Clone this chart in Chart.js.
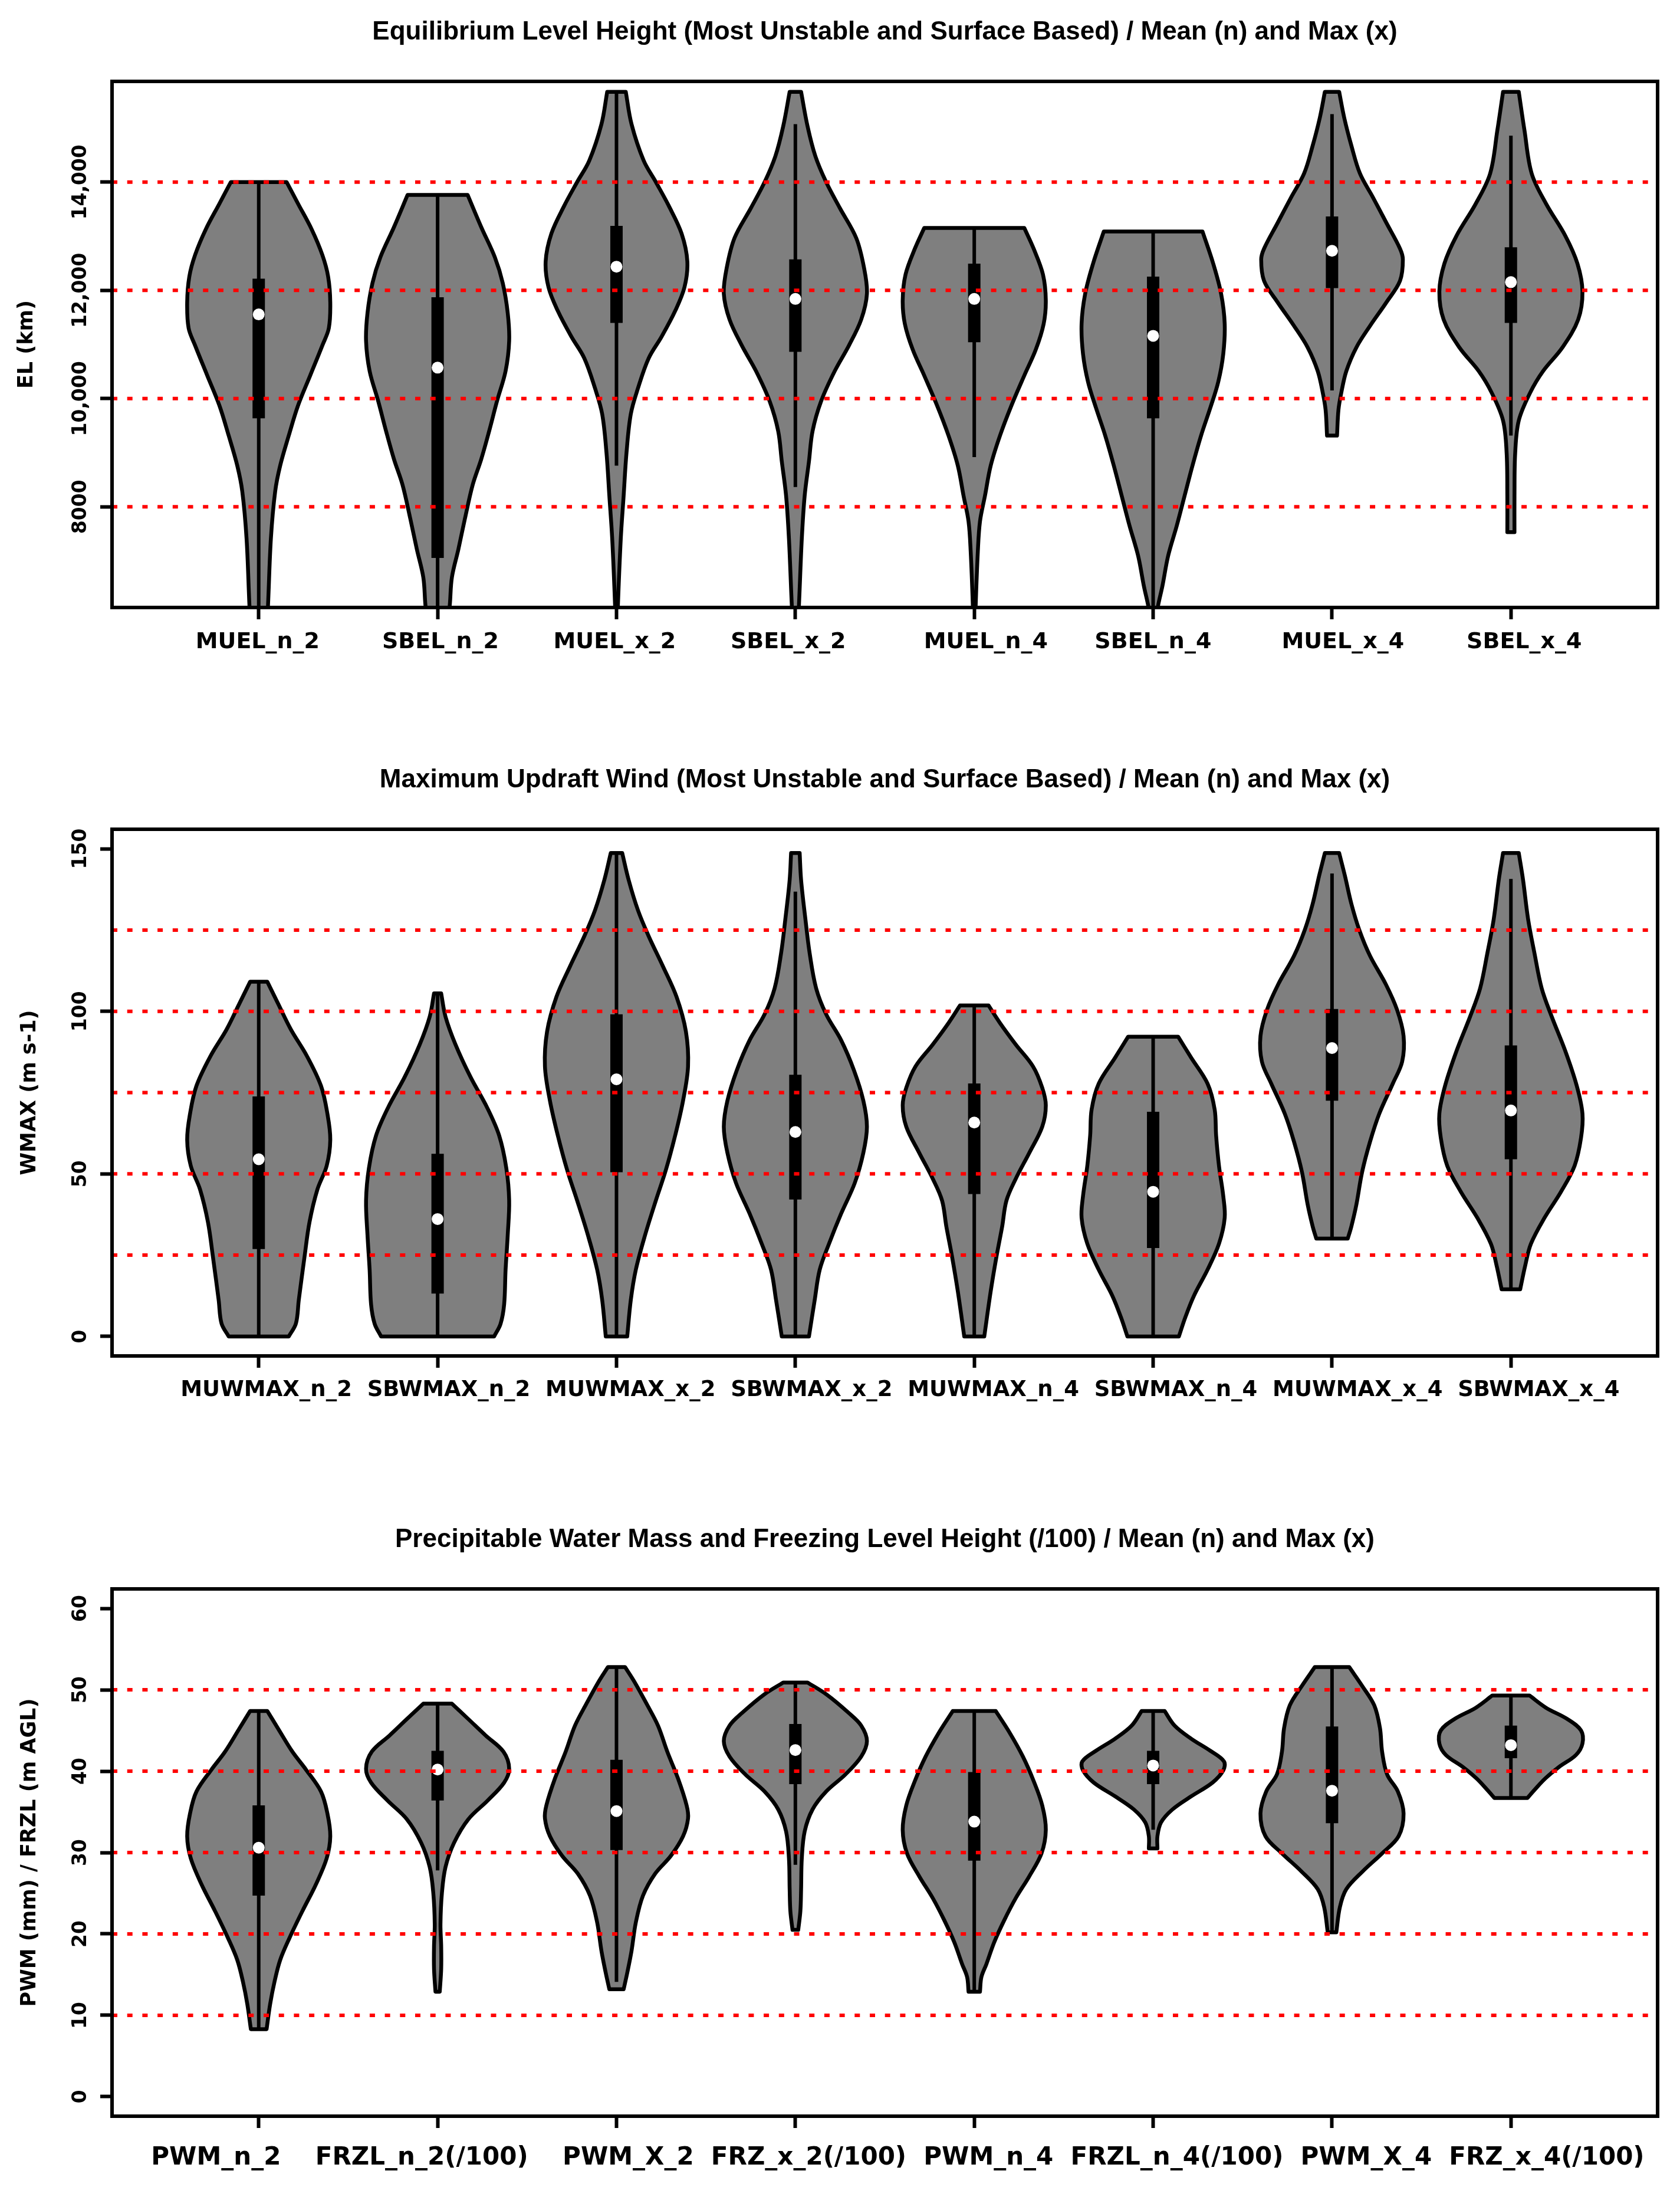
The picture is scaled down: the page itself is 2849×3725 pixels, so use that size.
<!DOCTYPE html>
<html>
<head>
<meta charset="utf-8">
<title>Violin plots</title>
<script src="https://cdn.jsdelivr.net/npm/chart.js@4.4.0/dist/chart.umd.min.js"></script>
<style>
  body { margin: 0; background: #ffffff; }
  canvas { position: absolute; left: 0; }
</style>
</head>
<body>
<canvas id="elChart" width="2849" height="1150" style="top:0px"></canvas>
<canvas id="wmaxChart" width="2849" height="1180" style="top:1240px"></canvas>
<canvas id="pwmChart" width="2849" height="1195" style="top:2530px"></canvas>
<script>
// ---- Equilibrium level height ----
const elLabels = ['MUEL_n_2', 'SBEL_n_2', 'MUEL_x_2', 'SBEL_x_2', 'MUEL_n_4', 'SBEL_n_4', 'MUEL_x_4', 'SBEL_x_4'];
const elMedian = [11555, 10571, 12437, 11841, 11841, 11159, 12730, 12151];
const elQ1 = [9635, 7055, 11397, 10865, 11040, 9635, 12040, 11397];
const elQ3 = [12214, 11873, 13190, 12571, 12492, 12254, 13365, 12794];
const elLo = [6000, 6000, 8762, 8365, 8920, 6000, 10151, 9317];
const elHi = [14000, 13762, 15667, 15071, 13151, 13087, 15254, 14857];
const elTicks = [8000, 10000, 12000, 14000];
const elTickLabels = ['8000', '10,000', '12,000', '14,000'];
const elLines = [8000, 10000, 12000, 14000];
const elLevels = [
  [6000, 6182, 7413, 8286, 8762, 9317, 9873, 10428, 10984, 11302, 11778, 12254, 12651, 13127, 13600, 14000],
  [6000, 6182, 6698, 7214, 7770, 8405, 8881, 9397, 9952, 10508, 11063, 11580, 12135, 12611, 13167, 13762],
  [6000, 6182, 7413, 8206, 9000, 9714, 10190, 10746, 11143, 11619, 12056, 12532, 13048, 13563, 14000, 14397, 15071, 15667],
  [6000, 6182, 7413, 8206, 8841, 9397, 9952, 10508, 10984, 11460, 11937, 12413, 12968, 13524, 14000, 14476, 15032, 15667],
  [6000, 6182, 7175, 7730, 8206, 8762, 9317, 9873, 10428, 10905, 11381, 11817, 12294, 12770, 13151],
  [6000, 6182, 6539, 7095, 7650, 8206, 8762, 9317, 9833, 10309, 10825, 11381, 11936, 12492, 13087],
  [9317, 9794, 10111, 10508, 10944, 11341, 11778, 12175, 12571, 12770, 13246, 13722, 14159, 14675, 15191, 15667],
  [7532, 8206, 9000, 9595, 10111, 10508, 10944, 11460, 11976, 12492, 13008, 13603, 14159, 14952, 15667]
];
const elWidths = [
  [0.12, 0.13, 0.17, 0.23, 0.30, 0.42, 0.55, 0.72, 0.89, 0.98, 1.0, 0.97, 0.89, 0.74, 0.55, 0.39],
  [0.15, 0.17, 0.20, 0.29, 0.38, 0.49, 0.61, 0.72, 0.83, 0.95, 1.0, 0.98, 0.91, 0.80, 0.61, 0.42],
  [0.02, 0.02, 0.06, 0.10, 0.14, 0.20, 0.30, 0.45, 0.63, 0.82, 0.95, 0.99, 0.91, 0.73, 0.55, 0.38, 0.21, 0.13],
  [0.04, 0.05, 0.09, 0.13, 0.19, 0.24, 0.36, 0.55, 0.75, 0.92, 1.0, 0.96, 0.85, 0.62, 0.43, 0.28, 0.17, 0.08],
  [0.02, 0.02, 0.05, 0.08, 0.15, 0.23, 0.36, 0.52, 0.70, 0.86, 0.97, 1.0, 0.96, 0.83, 0.70],
  [0.05, 0.07, 0.13, 0.21, 0.33, 0.44, 0.55, 0.67, 0.80, 0.91, 0.98, 1.0, 0.95, 0.84, 0.69],
  [0.07, 0.09, 0.13, 0.20, 0.34, 0.53, 0.76, 0.95, 0.99, 0.95, 0.76, 0.57, 0.39, 0.27, 0.17, 0.10],
  [0.05, 0.05, 0.06, 0.11, 0.27, 0.45, 0.72, 0.94, 1.0, 0.93, 0.76, 0.49, 0.29, 0.19, 0.11]
];

// ---- Maximum updraft wind ----
const wLabels = ['MUWMAX_n_2', 'SBWMAX_n_2', 'MUWMAX_x_2', 'SBWMAX_x_2', 'MUWMAX_n_4', 'SBWMAX_n_4', 'MUWMAX_x_4', 'SBWMAX_x_4'];
const wMedian = [54.5, 36.1, 79.1, 62.9, 65.8, 44.5, 88.7, 69.5];
const wQ1 = [26.9, 13.2, 50.5, 42.1, 43.8, 27.2, 72.5, 54.5];
const wQ3 = [73.8, 56.2, 99.1, 80.5, 77.8, 69.1, 100.7, 89.5];
const wLo = [0, 0, 0, 0, 0, 0, 30.1, 14.5];
const wHi = [109.1, 105.5, 148.7, 136.8, 101.8, 92.2, 142.4, 140.7];
const wTicks = [0, 50, 100, 150];
const wTickLabels = ['0', '50', '100', '150'];
const wLines = [25, 50, 75, 100, 125];
const wLevels = [
  [0, 4, 11.2, 24.5, 35.2, 45.2, 52.5, 60.5, 68.5, 77.1, 86.4, 94.4, 102.4, 109.1],
  [0, 3.9, 9.9, 20.5, 31.2, 41.8, 51.8, 61.8, 70.5, 79.8, 89.8, 98.4, 105.5],
  [0, 11.2, 20.5, 31.2, 41.8, 51.2, 61.8, 72.5, 83.1, 93.8, 104.4, 113.8, 123.1, 131.1, 140.4, 148.7],
  [0, 11.2, 20.5, 28.5, 37.8, 47.2, 56.5, 64.5, 72.5, 81.8, 91.1, 99.1, 107.1, 117.8, 128.4, 140.4, 148.7],
  [0, 13.9, 24.5, 33.8, 41.8, 48.5, 56.5, 64.5, 71.1, 76.5, 83.1, 89.8, 96.4, 101.8],
  [0, 5.9, 12.5, 20.5, 28.5, 36.5, 43.2, 52.5, 61.8, 69.8, 77.8, 85.8, 92.2],
  [30.1, 33.8, 40.5, 50.5, 59.8, 68.5, 77.8, 84.5, 92.4, 100.4, 108.4, 117.1, 125.1, 133.1, 141.7, 148.7],
  [14.5, 21.8, 28.5, 36.5, 44.5, 52.5, 61.1, 68.5, 77.1, 87.8, 98.4, 107.1, 117.8, 128.4, 140.4, 148.7]
];
const wWidths = [
  [0.42, 0.52, 0.56, 0.64, 0.71, 0.82, 0.95, 1.0, 0.96, 0.87, 0.67, 0.45, 0.27, 0.12],
  [0.79, 0.88, 0.93, 0.95, 0.98, 1.0, 0.96, 0.86, 0.69, 0.46, 0.25, 0.11, 0.05],
  [0.15, 0.20, 0.27, 0.40, 0.55, 0.69, 0.82, 0.93, 1.0, 0.97, 0.84, 0.65, 0.45, 0.30, 0.17, 0.08],
  [0.19, 0.27, 0.34, 0.47, 0.64, 0.83, 0.95, 1.0, 0.95, 0.82, 0.64, 0.43, 0.29, 0.20, 0.14, 0.08, 0.06],
  [0.14, 0.23, 0.31, 0.39, 0.45, 0.58, 0.77, 0.95, 1.0, 0.95, 0.82, 0.58, 0.36, 0.20],
  [0.36, 0.45, 0.57, 0.76, 0.92, 1.0, 0.98, 0.92, 0.88, 0.86, 0.76, 0.53, 0.35],
  [0.22, 0.27, 0.34, 0.42, 0.53, 0.66, 0.85, 0.98, 1.0, 0.91, 0.75, 0.53, 0.38, 0.27, 0.18, 0.10],
  [0.13, 0.20, 0.28, 0.47, 0.70, 0.89, 0.98, 1.0, 0.92, 0.76, 0.57, 0.43, 0.33, 0.24, 0.17, 0.11]
];

// ---- Precipitable water mass / freezing level ----
const pLabels = ['PWM_n_2', 'FRZL_n_2(/100)', 'PWM_X_2', 'FRZ_x_2(/100)', 'PWM_n_4', 'FRZL_n_4(/100)', 'PWM_X_4', 'FRZ_x_4(/100)'];
const pMedian = [30.6, 40.2, 35.1, 42.6, 33.8, 40.7, 37.6, 43.2];
const pQ1 = [24.7, 36.4, 30.3, 38.4, 29.0, 38.4, 33.6, 41.6];
const pQ3 = [35.8, 42.5, 41.4, 45.8, 39.9, 42.5, 45.5, 45.6];
const pLo = [8.3, 27.8, 14.1, 28.5, 12.9, 32.8, 20.2, 36.7];
const pHi = [47.4, 48.3, 52.8, 50.9, 47.4, 47.4, 52.8, 49.3];
const pTicks = [0, 10, 20, 30, 40, 50, 60];
const pTickLabels = ['0', '10', '20', '30', '40', '50', '60'];
const pLines = [10, 20, 30, 40, 50];
const pLevels = [
  [8.3, 11.4, 14.1, 16.8, 19.5, 22.8, 26.1, 29.3, 32.0, 34.8, 37.5, 40.2, 42.4, 45.1, 47.4],
  [12.9, 15.7, 18.5, 21.2, 25.0, 28.2, 31.2, 34.1, 36.4, 38.6, 40.3, 42.4, 44.4, 46.4, 48.3],
  [13.2, 15.2, 17.9, 21.4, 24.7, 27.4, 29.6, 32.0, 34.2, 35.8, 39.1, 42.4, 45.6, 48.3, 51.0, 52.8],
  [20.5, 22.8, 25.5, 29.3, 32.6, 35.3, 37.5, 39.6, 41.8, 43.7, 45.6, 47.2, 49.4, 50.9],
  [12.9, 14.7, 16.3, 19.0, 21.7, 24.4, 27.1, 29.9, 32.8, 35.8, 38.8, 41.8, 44.8, 47.4],
  [30.5, 32.0, 33.7, 35.3, 36.9, 38.6, 40.1, 41.2, 42.5, 44.0, 45.6, 47.4],
  [20.2, 23.3, 25.5, 27.7, 29.9, 32.0, 34.8, 37.5, 39.6, 42.4, 45.3, 48.1, 50.5, 52.8],
  [36.7, 37.7, 39.1, 40.5, 42.0, 43.4, 45.0, 46.4, 47.8, 49.3]
];
const pWidths = [
  [0.11, 0.16, 0.22, 0.30, 0.43, 0.61, 0.80, 0.95, 1.0, 0.96, 0.87, 0.66, 0.47, 0.28, 0.12],
  [0.03, 0.05, 0.05, 0.04, 0.06, 0.11, 0.23, 0.43, 0.70, 0.93, 1.0, 0.92, 0.67, 0.43, 0.20],
  [0.10, 0.15, 0.21, 0.27, 0.37, 0.54, 0.76, 0.93, 1.0, 0.98, 0.86, 0.71, 0.58, 0.42, 0.25, 0.12],
  [0.04, 0.07, 0.08, 0.09, 0.13, 0.24, 0.43, 0.70, 0.92, 1.0, 0.92, 0.74, 0.44, 0.17],
  [0.08, 0.10, 0.17, 0.28, 0.42, 0.58, 0.77, 0.94, 1.0, 0.95, 0.83, 0.68, 0.49, 0.30],
  [0.06, 0.06, 0.11, 0.27, 0.53, 0.83, 0.98, 0.99, 0.80, 0.53, 0.30, 0.16],
  [0.06, 0.11, 0.20, 0.43, 0.70, 0.93, 1.0, 0.92, 0.77, 0.70, 0.67, 0.59, 0.42, 0.24],
  [0.23, 0.33, 0.48, 0.67, 0.91, 1.0, 0.98, 0.79, 0.49, 0.26]
];

const X_MIN = 0.18;
const X_MAX = 8.82;
const HALF = 0.4; // widest half-width of a violin, in category units

// the category names sit in one spaced-out line under each plot, as in the original
function spacedLine(labels, lead, gaps) {
  let s = ' '.repeat(lead);
  labels.forEach((l, i) => {
    s += l;
    if (i < gaps.length) s += ' '.repeat(gaps[i]);
  });
  return s;
}

// closed outline: bottom centre, up the right side, across the top, down the left side
// corners are doubled so the flat ends stay straight with the bezier tension
function violinPoints(c, levels, widths) {
  const n = levels.length;
  const pts = [{ x: c, y: levels[0] }];
  pts.push({ x: c + widths[0] * HALF, y: levels[0] });
  for (let k = 0; k < n; k++) pts.push({ x: c + widths[k] * HALF, y: levels[k] });
  pts.push({ x: c + widths[n - 1] * HALF, y: levels[n - 1] });
  pts.push({ x: c - widths[n - 1] * HALF, y: levels[n - 1] });
  for (let k = n - 1; k >= 0; k--) pts.push({ x: c - widths[k] * HALF, y: levels[k] });
  pts.push({ x: c - widths[0] * HALF, y: levels[0] });
  pts.push({ x: c, y: levels[0] });
  return pts;
}

function buildDatasets(p) {
  const sets = [];
  p.lines.forEach(v => {
    sets.push({
      data: [{ x: X_MIN, y: v }, { x: X_MAX, y: v }],
      showLine: true, borderColor: '#ff0000', borderWidth: 6,
      borderDash: [9, 16.7], borderCapStyle: 'butt', pointRadius: 0, order: 0
    });
  });
  sets.push({
    data: p.median.map((m, i) => ({ x: i + 1, y: m })),
    showLine: false, pointRadius: 10, pointBackgroundColor: '#ffffff',
    pointBorderWidth: 0, order: 1
  });
  p.labels.forEach((_, i) => {
    const c = i + 1;
    sets.push({
      data: [{ x: c, y: p.q1[i] }, { x: c, y: p.q3[i] }],
      showLine: true, borderColor: '#000000', borderWidth: 21,
      borderCapStyle: 'butt', pointRadius: 0, order: 2
    });
    sets.push({
      data: [{ x: c, y: p.lo[i] }, { x: c, y: p.hi[i] }],
      showLine: true, borderColor: '#000000', borderWidth: 6,
      borderCapStyle: 'butt', pointRadius: 0, order: 3
    });
    sets.push({
      data: violinPoints(c, p.levels[i], p.widths[i]),
      showLine: true, fill: 'shape', backgroundColor: '#7f7f7f',
      borderColor: '#000000', borderWidth: 6.5, borderJoinStyle: 'round',
      tension: 0.35, pointRadius: 0, order: 4
    });
  });
  return sets;
}

// plot frame and upright y tick labels (R style)
const framePlugin = {
  id: 'frame',
  afterDraw(chart, args, opts) {
    const { ctx, chartArea } = chart;
    const y = chart.scales.y;
    ctx.save();
    ctx.strokeStyle = '#000000';
    ctx.lineWidth = 6;
    ctx.strokeRect(chartArea.left, chartArea.top, chartArea.right - chartArea.left, chartArea.bottom - chartArea.top);
    ctx.font = 'bold 33px "DejaVu Sans"';
    ctx.fillStyle = '#000000';
    ctx.textAlign = 'center';
    ctx.textBaseline = 'middle';
    y.ticks.forEach((t, i) => {
      ctx.save();
      ctx.translate(chartArea.left - 53, y.getPixelForValue(t.value));
      ctx.rotate(-Math.PI / 2);
      ctx.fillText(opts.labels[i], 0, 0);
      ctx.restore();
    });
    ctx.restore();
  }
};

function createChart(p) {
  const ctx = document.getElementById(p.id).getContext('2d');
  return new Chart(ctx, {
    type: 'scatter',
    data: { datasets: buildDatasets(p) },
    plugins: [framePlugin],
    options: {
      responsive: false,
      devicePixelRatio: 1,
      animation: false,
      events: [],
      layout: { padding: { left: 0, right: 38, top: 0, bottom: 0 } },
      plugins: {
        legend: { display: false },
        tooltip: { enabled: false },
        frame: { labels: p.tickLabels },
        title: {
          display: true,
          text: p.title,
          fullSize: false,
          color: '#000000',
          font: { family: 'Liberation Sans', weight: 'bold', size: 44, lineHeight: 1.2 },
          padding: { top: p.titleTop, bottom: p.titleBottom }
        }
      },
      scales: {
        x: {
          type: 'linear',
          min: X_MIN,
          max: X_MAX,
          afterBuildTicks: axis => { axis.ticks = p.labels.map((_, i) => ({ value: i + 1 })); },
          afterFit: axis => { axis.height = p.xHeight; },
          border: { display: false },
          grid: { display: true, drawOnChartArea: false, drawTicks: true, tickLength: 20, tickWidth: 6, tickColor: '#000000' },
          ticks: { display: false },
          title: {
            display: true,
            text: spacedLine(p.labels, p.lead, p.gaps),
            color: '#000000',
            font: { family: 'DejaVu Sans', weight: 'bold', size: p.xFont, lineHeight: 1.2 },
            padding: { top: 0, bottom: p.xPad }
          }
        },
        y: {
          type: 'linear',
          min: p.yMin,
          max: p.yMax,
          afterBuildTicks: axis => { axis.ticks = p.ticks.map(v => ({ value: v })); },
          afterFit: axis => { axis.width = 190; },
          border: { display: false },
          grid: { display: true, drawOnChartArea: false, drawTicks: true, tickLength: 20, tickWidth: 6, tickColor: '#000000' },
          ticks: { display: false },
          title: {
            display: true,
            text: p.yTitle,
            color: '#000000',
            font: { family: 'DejaVu Sans', weight: 'bold', size: 35, lineHeight: 1.2 },
            padding: { top: p.yTitlePad, bottom: 0 }
          }
        }
      }
    }
  });
}

const panels = [
  {
    id: 'elChart',
    title: 'Equilibrium Level Height (Most Unstable and Surface Based) / Mean (n) and Max (x)',
    yTitle: 'EL (km)',
    labels: elLabels, median: elMedian, q1: elQ1, q3: elQ3, lo: elLo, hi: elHi,
    levels: elLevels, widths: elWidths, lines: elLines, ticks: elTicks, tickLabels: elTickLabels,
    yMin: 6140, yMax: 15860,
    titleTop: 28.6, titleBottom: 56.6, xHeight: 120, xPad: 38.2, xFont: 38, yTitlePad: 25,
    lead: 1, gaps: [8, 7, 7, 10, 6, 9, 8]
  },
  {
    id: 'wmaxChart',
    title: 'Maximum Updraft Wind (Most Unstable and Surface Based) / Mean (n) and Max (x)',
    yTitle: 'WMAX (m s-1)',
    labels: wLabels, median: wMedian, q1: wQ1, q3: wQ3, lo: wLo, hi: wHi,
    levels: wLevels, widths: wWidths, lines: wLines, ticks: wTicks, tickLabels: wTickLabels,
    yMin: -6, yMax: 156,
    titleTop: 56.6, titleBottom: 56.6, xHeight: 121, xPad: 40.8, xFont: 37, yTitlePad: 30,
    lead: 4, gaps: [2, 2, 2, 2, 2, 2, 2]
  },
  {
    id: 'pwmChart',
    title: 'Precipitable Water Mass and Freezing Level Height (/100) / Mean (n) and Max (x)',
    yTitle: 'PWM (mm) / FRZL (m AGL)',
    labels: pLabels, median: pMedian, q1: pQ1, q3: pQ3, lo: pLo, hi: pHi,
    levels: pLevels, widths: pWidths, lines: pLines, ticks: pTicks, tickLabels: pTickLabels,
    yMin: -2.4, yMax: 62.4,
    titleTop: 54.6, titleBottom: 56.6, xHeight: 137, xPad: 40.8, xFont: 42, yTitlePad: 30,
    lead: 3, gaps: [4, 4, 2, 2, 2, 2, 2]
  }
];

panels.forEach(createChart);
</script>
</body>
</html>
